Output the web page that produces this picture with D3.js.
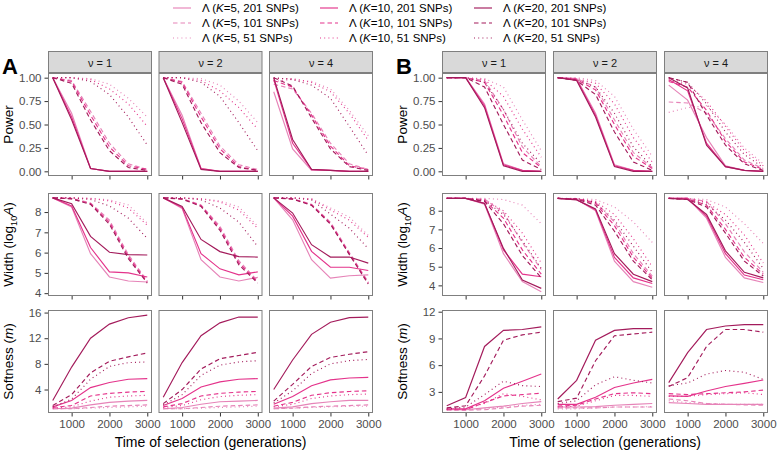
<!DOCTYPE html>
<html><head><meta charset="utf-8">
<script src="https://cdn.jsdelivr.net/npm/d3@7"></script>
<style>body{margin:0;background:#fff} svg text{font-family:"Liberation Sans",Arial,Helvetica,sans-serif}</style>
</head><body><svg id="c" width="777" height="451"></svg>
<script>
const times = [500, 1000, 1500, 2000, 2500, 3000];
const nuLabels = ["1", "2", "4"];
const kValues = [5, 10, 20];
const snpValues = [201, 101, 51];
const xTicks = [1000, 2000, 3000];
const powerTicks = [0, 0.25, 0.5, 0.75, 1];
const widthTicks = [4, 5, 6, 7, 8];
const softTicksA = [4, 8, 12, 16];
const softTicksB = [3, 6, 9, 12];
// series order: K5-201, K5-101, K5-51, K10-201, K10-101, K10-51, K20-201, K20-101, K20-51
const powerA_nu1 = [
 [1,0.62,0.03,0,0,0],[1,0.97,0.64,0.3,0.08,0.02],[1,1,0.99,0.93,0.78,0.58],
 [1,0.58,0.03,0,0,0],[1,0.96,0.6,0.26,0.06,0.02],[1,1,0.98,0.88,0.72,0.48],
 [1,0.55,0.03,0,0,0],[1,0.94,0.55,0.22,0.04,0.01],[1,1,0.96,0.82,0.58,0.28]];
const powerA_nu2 = [
 [1,0.6,0.03,0,0,0],[1,0.96,0.62,0.27,0.07,0.02],[1,1,0.99,0.92,0.75,0.52],
 [1,0.56,0.03,0,0,0],[1,0.95,0.58,0.24,0.05,0.01],[1,1,0.97,0.86,0.68,0.45],
 [1,0.52,0.02,0,0,0],[1,0.93,0.52,0.2,0.04,0.01],[1,1,0.95,0.8,0.52,0.22]];
const powerA_nu4 = [
 [0.85,0.24,0.01,0.01,0,0],[0.93,0.88,0.62,0.3,0.08,0.02],[0.96,0.98,0.96,0.88,0.65,0.38],
 [0.98,0.3,0.02,0.01,0,0],[0.97,0.9,0.6,0.27,0.06,0.02],[0.99,0.99,0.95,0.85,0.62,0.33],
 [1,0.34,0.02,0.01,0,0],[1,0.91,0.57,0.24,0.05,0.01],[1,0.98,0.92,0.78,0.48,0.17]];
const widthA_nu1 = [
 [8.7,8.25,5.95,4.8,4.6,4.55],[8.7,8.68,8.45,7.6,5.9,4.6],[8.7,8.7,8.68,8.6,8.35,7.45],
 [8.7,8.3,6.25,5.05,5.0,4.8],[8.7,8.66,8.42,7.5,5.8,4.55],[8.7,8.7,8.67,8.55,8.2,7.35],
 [8.7,8.41,6.8,6.02,5.9,5.88],[8.7,8.65,8.38,7.4,5.7,4.5],[8.7,8.7,8.62,8.3,7.7,6.7]];
const widthA_nu2 = [
 [8.7,8.18,5.65,4.8,4.6,4.78],[8.7,8.66,8.35,7.3,5.6,4.6],[8.7,8.7,8.66,8.55,8.25,7.3],
 [8.7,8.22,5.95,5.2,4.9,5.05],[8.7,8.65,8.32,7.2,5.5,4.55],[8.7,8.7,8.65,8.5,8.1,7.2],
 [8.7,8.28,6.65,6.05,5.8,5.78],[8.7,8.64,8.28,7.1,5.4,4.5],[8.7,8.7,8.6,8.2,7.5,6.3]];
const widthA_nu4 = [
 [8.7,7.62,5.65,4.74,4.86,4.9],[8.7,8.66,8.38,7.5,6.0,4.55],[8.7,8.7,8.66,8.2,7.75,6.85],
 [8.7,7.8,6.06,5.28,5.28,5.12],[8.7,8.65,8.36,7.45,5.95,4.5],[8.7,8.7,8.64,8.1,7.6,6.75],
 [8.7,7.95,6.39,5.78,5.78,5.48],[8.7,8.64,8.33,7.4,5.9,4.45],[8.7,8.7,8.6,7.9,7.2,6.2]];
const softA_nu1 = [
 [1.0,1.1,1.6,2.0,2.2,2.3],[1.0,1.0,1.2,1.4,1.5,1.6],[1.0,1.0,1.1,1.2,1.3,1.4],
 [1.3,2.3,4.3,5.1,5.6,5.7],[1.2,1.5,3.0,3.4,3.6,3.7],[1.1,1.3,2.2,2.8,3.0,3.1],
 [2.3,7.5,12.0,14.2,15.2,15.6],[1.5,3.2,6.6,8.4,9.1,9.7],[1.3,2.5,5.6,7.6,8.2,8.3]];
const softA_nu2 = [
 [1.0,1.2,1.7,2.1,2.2,2.3],[1.0,1.0,1.2,1.4,1.5,1.6],[1.0,1.0,1.1,1.2,1.3,1.4],
 [1.5,2.6,4.4,5.2,5.6,5.7],[1.3,1.8,3.0,3.4,3.6,3.7],[1.2,1.5,2.4,2.9,3.1,3.2],
 [2.8,8.2,12.4,14.4,15.3,15.3],[1.8,4.0,7.2,8.8,9.3,9.8],[1.6,3.2,6.2,7.8,8.3,8.5]];
const softA_nu4 = [
 [1.1,1.3,1.8,2.1,2.3,2.3],[1.0,1.1,1.3,1.4,1.5,1.6],[1.0,1.1,1.2,1.3,1.4,1.4],
 [1.7,2.9,4.6,5.5,5.8,5.9],[1.4,2.0,3.1,3.5,3.7,3.8],[1.3,1.7,2.6,3.0,3.2,3.3],
 [4.0,8.6,12.6,14.5,15.2,15.3],[2.2,4.8,7.6,9.0,9.5,9.9],[1.9,3.8,6.5,8.0,8.5,8.7]];
const powerB_nu1 = [
 [1,1,0.72,0.08,0.01,0],[1,1,0.97,0.66,0.26,0.05],[1,1,0.99,0.9,0.55,0.22],
 [1,1,0.7,0.07,0.01,0],[1,1,0.95,0.6,0.2,0.04],[1,1,0.98,0.8,0.45,0.15],
 [1,1,0.68,0.06,0,0],[1,1,0.9,0.5,0.12,0.02],[1,1,0.95,0.66,0.3,0.08]];
const powerB_nu2 = [
 [1,0.99,0.62,0.07,0.01,0],[1,0.99,0.9,0.55,0.2,0.04],[1,1,0.97,0.8,0.45,0.16],
 [1,0.98,0.6,0.06,0.01,0],[1,0.98,0.87,0.5,0.16,0.03],[1,0.99,0.94,0.72,0.36,0.1],
 [1,0.97,0.58,0.05,0,0],[1,0.97,0.82,0.42,0.1,0.01],[1,0.98,0.9,0.62,0.26,0.05]];
const powerB_nu4 = [
 [0.92,0.76,0.36,0.06,0.01,0],[0.74,0.73,0.62,0.35,0.12,0.03],[0.63,0.68,0.7,0.5,0.25,0.08],
 [0.98,0.86,0.3,0.05,0.01,0],[0.96,0.9,0.65,0.32,0.1,0.02],[0.97,0.93,0.75,0.48,0.22,0.06],
 [1,0.89,0.28,0.05,0.01,0],[1,0.95,0.6,0.28,0.08,0.01],[1,0.95,0.72,0.42,0.18,0.04]];
const widthB_nu1 = [
 [8.66,8.66,8.35,5.7,4.2,3.66],[8.66,8.66,8.62,7.9,6.3,4.85],[8.66,8.66,8.66,8.6,8.3,7.3],
 [8.66,8.66,8.4,5.9,4.6,4.46],[8.66,8.66,8.55,7.6,5.9,4.6],[8.66,8.66,8.6,8.0,6.8,5.2],
 [8.66,8.66,8.39,5.98,4.29,3.84],[8.66,8.66,8.5,7.3,5.6,4.4],[8.66,8.66,8.55,7.8,6.4,4.9]];
const widthB_nu2 = [
 [8.66,8.6,8.0,5.3,4.2,3.9],[8.66,8.65,8.45,7.4,5.7,4.5],[8.66,8.66,8.6,8.2,7.4,6.3],
 [8.66,8.6,8.05,5.5,4.4,4.1],[8.66,8.64,8.4,7.2,5.5,4.4],[8.66,8.65,8.5,7.8,6.5,5.0],
 [8.66,8.58,8.1,5.7,4.6,4.2],[8.66,8.62,8.3,6.9,5.3,4.3],[8.66,8.64,8.45,7.5,6.1,4.7]];
const widthB_nu4 = [
 [8.66,8.66,7.6,5.5,4.4,4.15],[8.66,8.66,8.5,7.3,5.8,4.7],[8.66,8.66,8.6,8.2,7.3,6.25],
 [8.66,8.66,7.7,5.7,4.55,4.3],[8.66,8.64,8.3,7.0,5.5,4.6],[8.66,8.66,8.45,7.8,6.7,5.2],
 [8.66,8.6,7.8,5.85,4.7,4.4],[8.66,8.6,8.2,6.8,5.3,4.5],[8.66,8.62,8.35,7.5,6.3,4.9]];
const softB_nu1 = [
 [1.0,1.0,1.2,1.4,1.7,1.9],[1.0,0.95,1.0,1.2,1.4,1.5],[1.0,1.0,1.1,1.3,1.5,1.6],
 [1.1,1.1,2.0,3.4,4.2,5.0],[1.0,1.0,1.8,2.55,2.7,2.85],[1.0,1.1,1.7,2.8,2.5,2.1],
 [1.44,2.37,8.1,9.9,10.0,10.3],[1.2,1.44,4.8,8.8,9.4,9.7],[1.1,1.3,2.7,4.2,3.7,3.6]];
const softB_nu2 = [
 [1.3,1.3,1.35,1.5,1.6,1.7],[1.2,1.2,1.2,1.3,1.3,1.3],[1.1,1.1,1.2,1.3,1.3,1.35],
 [1.6,1.6,2.4,3.5,4.0,4.4],[1.4,1.5,2.2,2.8,2.9,2.8],[1.3,1.4,2.0,2.6,2.6,2.5],
 [2.2,4.3,8.8,9.9,10.1,10.1],[1.9,2.3,6.5,9.3,9.5,9.7],[1.7,2.0,3.8,4.7,4.3,4.0]];
const softB_nu4 = [
 [1.8,1.7,1.6,1.6,1.6,1.6],[2.2,2.0,1.7,1.6,1.55,1.5],[2.0,1.8,1.7,1.6,1.6,1.6],
 [2.55,2.5,3.1,3.6,3.96,4.33],[2.8,2.7,2.8,2.9,3.0,3.2],[2.5,2.5,2.7,2.8,2.9,2.7],
 [4.04,7.4,10.0,10.4,10.55,10.55],[3.6,4.6,8.1,10.0,10.0,9.7],[3.7,4.0,5.0,5.4,5.2,4.4]];

const kColors = ["#e684b8", "#e4338b", "#a31b5b"];
const dashes = [null, "4.5,3", "1,3.2"];

const svg = d3.select("#c");
const panelW = 104, panelH = 103;
const rowTops = [73, 193, 310];
const stripTop = 51;
const border = "#7f7f7f";
const tickCol = "#4d4d4d";

const figures = [
  {letter: "A", letterX: 2, titleX: 13, lefts: [48, 158.5, 269],
   rows: [
     {data: [powerA_nu1, powerA_nu2, powerA_nu4], domain: [-0.05, 1.05], ticks: powerTicks, fmt: d3.format(".2f"), title: "power"},
     {data: [widthA_nu1, widthA_nu2, widthA_nu4], domain: [3.86, 8.94], ticks: widthTicks, fmt: d3.format("d"), title: "width"},
     {data: [softA_nu1, softA_nu2, softA_nu4], domain: [0.34, 16.4], ticks: softTicksA, fmt: d3.format("d"), title: "soft"}]},
  {letter: "B", letterX: 396, titleX: 407, lefts: [442, 553, 664],
   rows: [
     {data: [powerB_nu1, powerB_nu2, powerB_nu4], domain: [-0.05, 1.05], ticks: powerTicks, fmt: d3.format(".2f"), title: "power"},
     {data: [widthB_nu1, widthB_nu2, widthB_nu4], domain: [3.43, 8.95], ticks: widthTicks, fmt: d3.format("d"), title: "width"},
     {data: [softB_nu1, softB_nu2, softB_nu4], domain: [0.63, 12.19], ticks: softTicksB, fmt: d3.format("d"), title: "soft"}]}
];

function yTitle(g, kind, cx, cy) {
  const t = g.append("text").attr("transform", `translate(${cx},${cy}) rotate(-90)`)
    .attr("text-anchor", "middle").attr("font-size", 13.5).attr("fill", "#000");
  if (kind === "power") t.text("Power");
  else if (kind === "width") {
    t.append("tspan").text("Width (log");
    t.append("tspan").attr("font-size", 9).attr("dy", 3.5).text("10");
    t.append("tspan").attr("dy", -3.5).attr("font-style", "italic").text("A");
    t.append("tspan").text(")");
  } else {
    t.append("tspan").text("Softness (");
    t.append("tspan").attr("font-style", "italic").text("m");
    t.append("tspan").text(")");
  }
}

figures.forEach(fig => {
  const g = svg.append("g");
  g.append("text").attr("x", fig.letterX).attr("y", 74).attr("font-size", 22)
    .attr("font-weight", "bold").attr("fill", "#000").text(fig.letter);
  fig.lefts.forEach((left, ci) => {
    const x = d3.scaleLinear().domain([375, 3125]).range([left, left + panelW]);
    g.append("rect").attr("x", left + 0.5).attr("y", stripTop + 0.5).attr("width", panelW - 1).attr("height", rowTops[0] - stripTop - 1)
      .attr("fill", "#d9d9d9").attr("stroke", border).attr("stroke-width", 1);
    g.append("text").attr("x", left + panelW / 2).attr("y", stripTop + 15.5).attr("text-anchor", "middle")
      .attr("font-size", 11).attr("fill", "#1a1a1a").text("\u03bd = " + nuLabels[ci]);
    fig.rows.forEach((row, ri) => {
      const top = rowTops[ri];
      const y = d3.scaleLinear().domain(row.domain).range([top + panelH, top]);
      const xa = g.append("g").attr("transform", `translate(0,${top + panelH})`)
        .call(d3.axisBottom(x).tickValues(xTicks).tickSize(3.5).tickPadding(3).tickFormat(ri === 2 ? d3.format("d") : ""));
      xa.select(".domain").remove();
      xa.selectAll("line").attr("stroke", "#333");
      xa.selectAll("text").attr("font-size", 11.5).attr("fill", tickCol).attr("font-family", null);
      if (ci === 0) {
        const ya = g.append("g").attr("transform", `translate(${left},0)`)
          .call(d3.axisLeft(y).tickValues(row.ticks).tickSize(3.5).tickPadding(3).tickFormat(row.fmt));
        ya.select(".domain").remove();
        ya.selectAll("line").attr("stroke", "#333");
        ya.selectAll("text").attr("font-size", 11.5).attr("fill", tickCol).attr("font-family", null);
      }
      const line = d3.line().x((d, i) => x(times[i])).y(d => y(d));
      const clipId = `clip-${fig.letter}-${ci}-${ri}`;
      g.append("clipPath").attr("id", clipId).append("rect").attr("x", left).attr("y", top).attr("width", panelW).attr("height", panelH);
      const lg = g.append("g").attr("clip-path", `url(#${clipId})`);
      row.data[ci].forEach((vals, si) => {
        const k = Math.floor(si / 3), s = si % 3;
        lg.append("path").attr("d", line(vals)).attr("fill", "none")
          .attr("stroke", kColors[k]).attr("stroke-width", 1.15)
          .attr("stroke-dasharray", dashes[s]);
      });
      g.append("rect").attr("x", left + 0.5).attr("y", top + 0.5).attr("width", panelW - 1).attr("height", panelH - 1)
        .attr("fill", "none").attr("stroke", border).attr("stroke-width", 1);
    });
  });
  fig.rows.forEach((row, ri) => yTitle(g, row.title, fig.titleX, rowTops[ri] + panelH / 2));
  const cx = (fig.lefts[0] + fig.lefts[2] + panelW) / 2;
  g.append("text").attr("x", cx).attr("y", 447).attr("text-anchor", "middle").attr("font-size", 14)
    .attr("fill", "#000").text("Time of selection (generations)");
});

const legX = [173, 320, 474];
const legY = [8, 23, 38];
kValues.forEach((k, ki) => {
  snpValues.forEach((s, si) => {
    const lx = legX[ki], ly = legY[si];
    svg.append("line").attr("x1", lx).attr("x2", lx + 18).attr("y1", ly).attr("y2", ly)
      .attr("stroke", kColors[ki]).attr("stroke-width", 1.15).attr("stroke-dasharray", dashes[si]);
    const t = svg.append("text").attr("x", lx + 29).attr("y", ly + 4).attr("font-size", 11.5).attr("fill", "#000");
    t.append("tspan").text("\u039b (");
    t.append("tspan").attr("font-style", "italic").text("K");
    t.append("tspan").text(`=${k}, ${s} SNPs)`);
  });
});
</script></body></html>
